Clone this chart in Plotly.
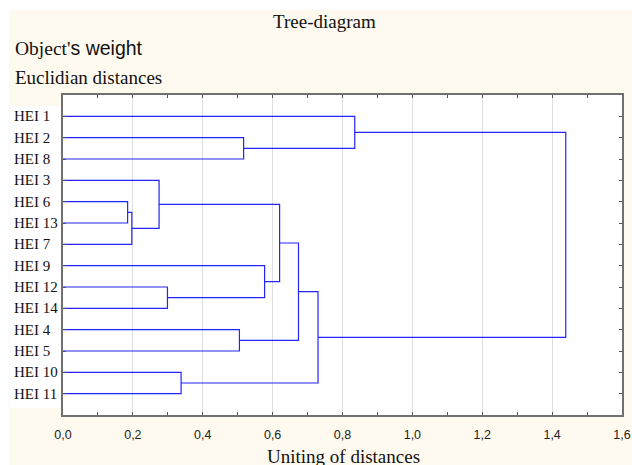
import plotly.graph_objects as go

# ---- data ----
leaf_labels = ["HEI 1", "HEI 2", "HEI 8", "HEI 3", "HEI 6", "HEI 13", "HEI 7",
               "HEI 9", "HEI 12", "HEI 14", "HEI 4", "HEI 5", "HEI 10", "HEI 11"]
merge_left = ["HEI 6", "C1", "HEI 3", "HEI 12", "HEI 10", "HEI 4", "HEI 2",
              "HEI 9", "C3", "C9", "C10", "HEI 1", "C12"]
merge_right = ["HEI 13", "HEI 7", "C2", "HEI 14", "HEI 11", "HEI 5", "HEI 8",
               "C4", "C8", "C6", "C5", "C7", "C11"]
merge_height = [0.185, 0.197, 0.275, 0.299, 0.338, 0.505, 0.517,
                0.577, 0.620, 0.674, 0.730, 0.835, 1.439]
x_ticks = [0.0, 0.2, 0.4, 0.6, 0.8, 1.0, 1.2, 1.4, 1.6]

# ---- build dendrogram segments ----
pos = {lab: i + 1 for i, lab in enumerate(leaf_labels)}
hgt = {lab: 0.0 for lab in leaf_labels}
xs, ys = [], []
for k, (a, b, h) in enumerate(zip(merge_left, merge_right, merge_height)):
    ya, yb = pos[a], pos[b]
    xs += [hgt[a], h, h, hgt[b], None]
    ys += [ya, ya, yb, yb, None]
    name = "C%d" % (k + 1)
    pos[name] = (ya + yb) / 2
    hgt[name] = h

serif = "Liberation Serif, Times New Roman, serif"
sans = "Liberation Sans, Arial, sans-serif"

fig = go.Figure()
fig.add_trace(go.Scatter(x=xs, y=ys, mode="lines",
                         line=dict(color="#2424ff", width=1.2),
                         hoverinfo="skip", showlegend=False))

W, H = 632, 465
ml, mt = 63, 95
pw, ph = 559, 320
mr, mb = W - ml - pw, H - mt - ph


def px(x):
    return (x - ml) / pw


def py(y):
    return (mt + ph - y) / ph


annotations = []
for lab in leaf_labels:
    annotations.append(dict(x=px(12), y=pos[lab], xref="paper", yref="y",
                            text=lab, showarrow=False, xanchor="left", yanchor="middle",
                            font=dict(family=serif, size=15, color="#111111")))

annotations += [
    dict(x=px(324), y=py(21.5), xref="paper", yref="paper", text="Tree-diagram",
         showarrow=False, xanchor="center", yanchor="middle",
         font=dict(family=serif, size=19, color="#111111")),
    dict(x=px(13), y=py(47.5), xref="paper", yref="paper",
         text="<span style='font-family:Liberation Serif'>Object'</span>"
              "<span style='font-family:Liberation Sans'>s weight</span>",
         showarrow=False, xanchor="left", yanchor="middle",
         font=dict(family=serif, size=19.5, color="#111111")),
    dict(x=px(13), y=py(77), xref="paper", yref="paper", text="Euclidian distances",
         showarrow=False, xanchor="left", yanchor="middle",
         font=dict(family=serif, size=19, color="#111111")),
    dict(x=px(343), y=py(456), xref="paper", yref="paper", text="Uniting of distances",
         showarrow=False, xanchor="center", yanchor="middle",
         font=dict(family=serif, size=19, color="#111111")),
]

shapes = [
    dict(type="rect", xref="paper", yref="paper", x0=px(-5), x1=px(W + 5),
         y0=py(10), y1=py(-5), fillcolor="white", line=dict(width=0), layer="below"),
    dict(type="rect", xref="paper", yref="paper", x0=px(-5), x1=px(9),
         y0=py(H + 5), y1=py(-5), fillcolor="white", line=dict(width=0), layer="below"),
    dict(type="rect", xref="paper", yref="paper", x0=px(10), x1=px(63),
         y0=py(408), y1=py(106), fillcolor="white", line=dict(width=0), layer="below"),
]

fig.update_layout(
    width=W, height=H,
    margin=dict(l=ml, r=mr, t=mt, b=mb, pad=0, autoexpand=False),
    paper_bgcolor="#fffaef",
    plot_bgcolor="white",
    separators=", ",
    annotations=annotations,
    shapes=shapes,
    xaxis=dict(range=[0, 1.6], tickvals=x_ticks, tickformat=".1f", automargin=False,
               ticks="inside", ticklen=3, tickcolor="#555555",
               minor=dict(dtick=0.1, ticks="inside", ticklen=3, tickcolor="#555555", showgrid=False),
               showgrid=True, gridcolor="#dedede", gridwidth=1,
               zeroline=False, showline=True, linecolor="#707070", linewidth=1.5,
               mirror="ticks", ticklabelstandoff=7, ticklabeloverflow="allow",
               tickfont=dict(family=sans, size=12.5, color="#222222")),
    yaxis=dict(range=[15, 0], tickvals=list(range(1, len(leaf_labels) + 1)), automargin=False,
               showticklabels=False, ticks="inside", ticklen=3, tickcolor="#555555",
               showgrid=False, zeroline=False, showline=True,
               linecolor="#707070", linewidth=1.5, mirror="ticks"),
)

fig.write_html("out.html",
               config={"displayModeBar": False},
               post_script="document.body.style.margin='0';"
                           "document.documentElement.style.overflow='hidden';"
                           "document.body.style.overflow='hidden';")
